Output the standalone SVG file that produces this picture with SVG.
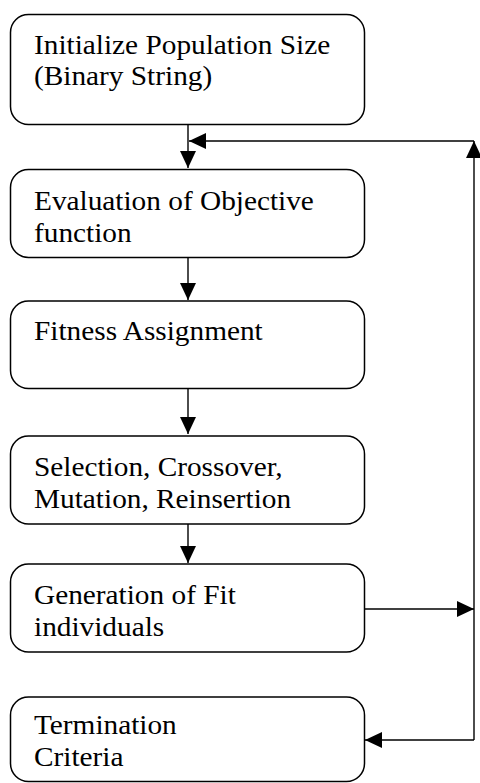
<svg xmlns="http://www.w3.org/2000/svg" width="480" height="783" viewBox="0 0 480 783">
<style>
.box{fill:#fff;stroke:#000;stroke-width:1.5}
.t{font-family:'Liberation Serif','DejaVu Serif',serif;font-size:27.5px;fill:#000}
.c{fill:none;stroke:#000;stroke-width:1.4}
</style>
<defs>
<marker id="ah" viewBox="0 0 17 16" refX="17" refY="8" markerWidth="17" markerHeight="16" markerUnits="userSpaceOnUse" orient="auto">
<path d="M0,0 L17,8 L0,16 z" fill="#000"/>
</marker>
</defs>
<rect width="480" height="783" fill="#fff"/>
<g id="connectors">
<path class="c" d="M188,124 V168" marker-end="url(#ah)"/>
<path class="c" d="M188,257 V300" marker-end="url(#ah)"/>
<path class="c" d="M188,388 V434" marker-end="url(#ah)"/>
<path class="c" d="M188,524 V563" marker-end="url(#ah)"/>
<path class="c" d="M364.5,609 H474" marker-end="url(#ah)"/>
<path class="c" d="M474,740 V141" marker-end="url(#ah)"/>
<path class="c" d="M474,141 H189" marker-end="url(#ah)"/>
<path class="c" d="M474,740 H365" marker-end="url(#ah)"/>
</g>
<g id="n1">
<rect class="box" x="10.5" y="14.5" width="354" height="110" rx="18"/>
<text class="t" transform="translate(34,53.5) scale(1.066,1)">Initialize Population Size</text>
<text class="t" transform="translate(34,85) scale(1.066,1)">(Binary String)</text>
</g>
<g id="n2">
<rect class="box" x="10.5" y="169.5" width="354" height="88" rx="18"/>
<text class="t" transform="translate(34,210) scale(1.066,1)">Evaluation of Objective</text>
<text class="t" transform="translate(34,241.5) scale(1.066,1)">function</text>
</g>
<g id="n3">
<rect class="box" x="10.5" y="301" width="354" height="87.5" rx="18"/>
<text class="t" transform="translate(34,340) scale(1.066,1)">Fitness Assignment</text>
</g>
<g id="n4">
<rect class="box" x="10.5" y="436" width="354" height="88" rx="18"/>
<text class="t" transform="translate(34,476) scale(1.066,1)">Selection, Crossover,</text>
<text class="t" transform="translate(34,508) scale(1.066,1)">Mutation, Reinsertion</text>
</g>
<g id="n5">
<rect class="box" x="10.5" y="564" width="354" height="88" rx="18"/>
<text class="t" transform="translate(34,604) scale(1.066,1)">Generation of Fit</text>
<text class="t" transform="translate(34,636) scale(1.066,1)">individuals</text>
</g>
<g id="n6">
<rect class="box" x="10.5" y="697" width="354" height="84.5" rx="18"/>
<text class="t" transform="translate(34,733.5) scale(1.066,1)">Termination</text>
<text class="t" transform="translate(34,766) scale(1.066,1)">Criteria</text>
</g>
</svg>
